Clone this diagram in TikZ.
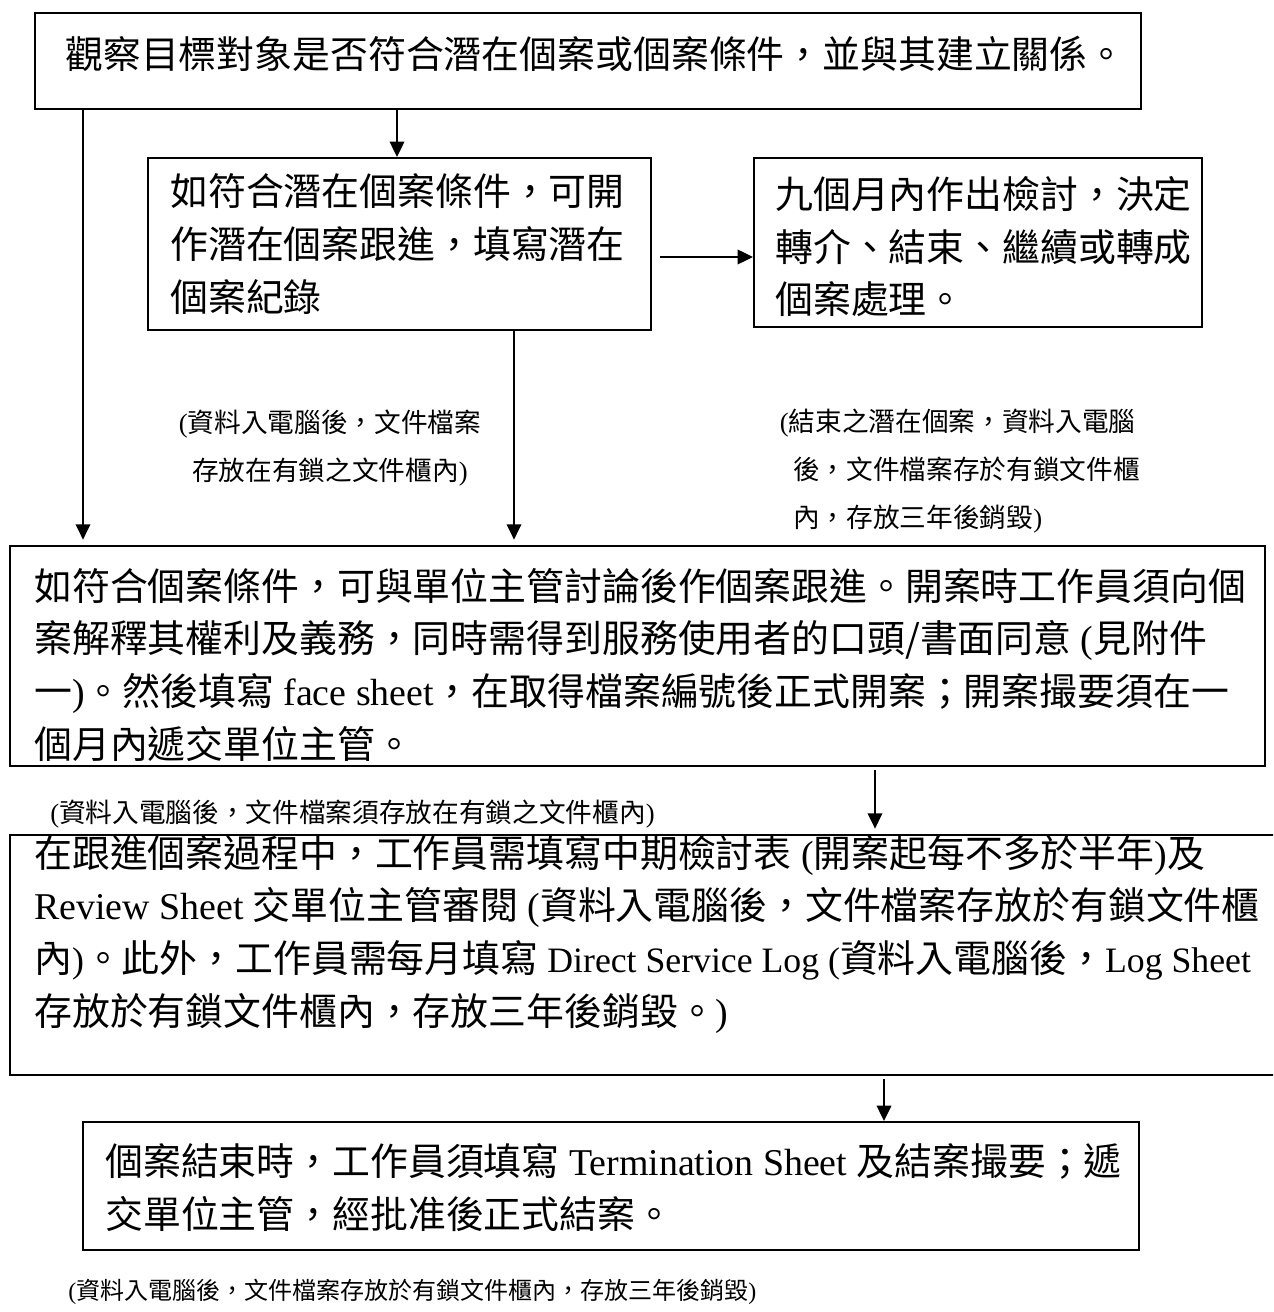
\documentclass[tikz,border=0pt]{standalone}
\usepackage{fontspec}
\setmainfont{Noto Sans CJK TC}
\newfontfamily\tm{Liberation Serif}
\newcommand\lt[1]{{\tm{}#1}}
\newcommand\ls[1]{{\tm\fontsize{26.8}{39.5}\selectfont{}#1}}
\usetikzlibrary{arrows.meta,fit}
\begin{document}
\begin{tikzpicture}[x=0.75pt,y=-0.75pt,
 box/.style={draw, line width=1.6pt, inner sep=0pt},
 arr/.style={line width=1.2pt, -{Triangle[length=11.5pt,width=11pt]}},
 big/.style={font=\fontsize{28.4}{39.5}\selectfont, anchor=base west, inner sep=0pt, align=left},
 note/.style={font=\fontsize{20}{36}\selectfont, anchor=base west, inner sep=0pt, align=left}]
\useasboundingbox[fill=white] (0,0) rectangle (1273,1312);
\clip (0,0) rectangle (1273,1312);
% boxes
\node[box, fit={(35,13) (1141,109)}] (b1) {};
\node[box, fit={(148,158) (651,330)}] (b2) {};
\node[box, fit={(754,158) (1202,327)}] (b3) {};
\node[box, fit={(10,546) (1265,766)}] (b4) {};
\node[box, fit={(10,835) (1285,1075)}] (b5) {};
\node[box, fit={(83,1122) (1139,1250)}] (b6) {};
% texts (anchor = baseline of the last line)
\node[big] (t1) at (65,69) {觀察目標對象是否符合潛在個案或個案條件，並與其建立關係。};
\node[big] (t2) at (170,311) {如符合潛在個案條件，可開\\作潛在個案跟進，填寫潛在\\個案紀錄};
\node[big] (t3) at (775,314) {九個月內作出檢討，決定\\轉介、結束、繼續或轉成\\個案處理。};
\node[big] (t4) at (34,758) {如符合個案條件，可與單位主管討論後作個案跟進。開案時工作員須向個\\案解釋其權利及義務，同時需得到服務使用者的口頭/書面同意\lt{ (}見附件\\一\lt{)}。然後填寫\lt{ face sheet}，在取得檔案編號後正式開案；開案撮要須在一\\個月內遞交單位主管。};
\node[big] (t5) at (34,1025) {在跟進個案過程中，工作員需填寫中期檢討表\lt{ (}開案起每不多於半年\lt{)}及\\\lt{Review Sheet }交單位主管審閱\lt{ (}資料入電腦後，文件檔案存放於有鎖文件櫃\\內\ls{)}。此外，工作員需每月填寫\ls{ Direct Service Log (}資料入電腦後，\ls{Log Sheet}\\存放於有鎖文件櫃內，存放三年後銷毀。\lt{)}};
\node[big] (t6) at (105,1228) {個案結束時，工作員須填寫\lt{ Termination Sheet }及結案撮要；遞\\交單位主管，經批准後正式結案。};
% notes
\node[note, align=center, anchor=base] (n1) at (330,480) {\lt{(}資料入電腦後，文件檔案\\存放在有鎖之文件櫃內\lt{)}};
\node[note] (n2) at (793,527) {\hspace*{-10pt}\lt{(}結束之潛在個案，資料入電腦\\後，文件檔案存於有鎖文件櫃\\內，存放三年後銷毀\lt{)}};
\node[note] (n3) at (50,822) {\lt{(}資料入電腦後，文件檔案須存放在有鎖之文件櫃內\lt{)}};
\node[note, font=\fontsize{18}{30}\selectfont] (n4) at (68,1299) {\lt{(}資料入電腦後，文件檔案存放於有鎖文件櫃內，存放三年後銷毀\lt{)}};
% connectors
\draw[arr, shorten >=4pt] (83,0 |- b1.south) -- (83,0 |- b4.north);
\draw[arr] (397,0 |- b1.south) -- (397,0 |- b2.north);
\draw[arr, shorten <=6pt] (b2.east |- 0,257) -- (b3.west |- 0,257);
\draw[arr, shorten >=4pt] (514,0 |- b2.south) -- (514,0 |- b4.north);
\draw[arr, shorten <=2pt, shorten >=4pt] (875,0 |- b4.south) -- (875,0 |- b5.north);
\draw[arr, shorten <=2pt] (884,0 |- b5.south) -- (884,0 |- b6.north);
\end{tikzpicture}
\end{document}
